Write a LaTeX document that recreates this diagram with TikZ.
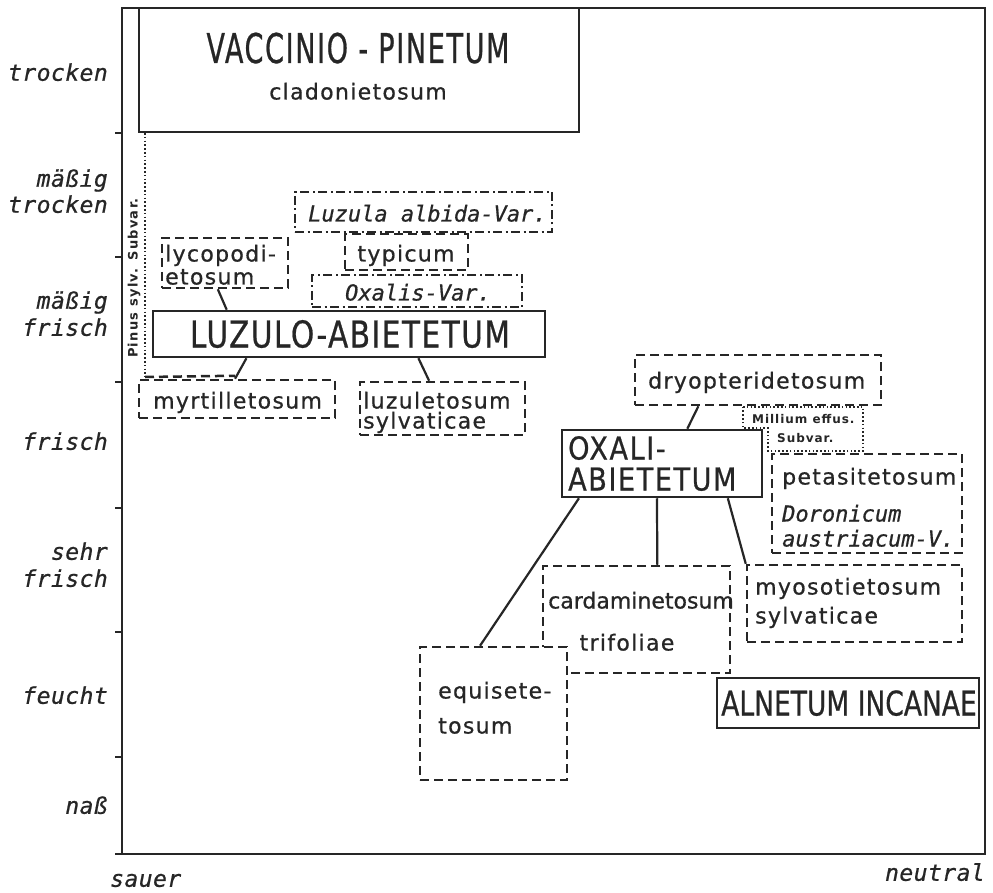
\documentclass[tikz,border=0pt]{standalone}
\usepackage{fontspec}
\setmainfont{DejaVu Sans}
\newfontfamily\labfnt[FakeBold=0.7]{DejaVu Sans}
\newfontfamily\monofnt[FakeBold=0.7]{DejaVu Sans Mono}
\newfontfamily\capsA[FakeStretch=0.66,FakeBold=0.6]{DejaVu Sans}
\newfontfamily\capsB[FakeStretch=0.80,FakeBold=0.6]{DejaVu Sans}
\newfontfamily\capsC[FakeStretch=0.78,FakeBold=0.6]{DejaVu Sans}
\newfontfamily\capsD[FakeStretch=0.86,FakeBold=0.6]{DejaVu Sans}
\usetikzlibrary{fit,calc}
\definecolor{ink}{RGB}{38,38,38}
\begin{document}
\begin{tikzpicture}[x=1pt,y=-1pt,
  frame/.style={draw=ink, line width=2.5pt},
  sbox/.style={draw=ink, line width=2.5pt, inner sep=0pt},
  dbox/.style={sbox, dash pattern=on 9pt off 5pt},
  ddbox/.style={sbox, dash pattern=on 9pt off 3.5pt on 2pt off 3.5pt},
  obox/.style={draw=ink, line width=2pt, dash pattern=on 1.6pt off 2.2pt},
  dline/.style={draw=ink, line width=2.5pt, dash pattern=on 9pt off 5pt},
  conn/.style={draw=ink, line width=2.2pt},
  lab/.style={text=ink, inner sep=0pt, anchor=west, text height=17pt, text depth=0pt,
    font=\labfnt\fontsize{22}{26}\selectfont\addfontfeature{LetterSpace=6}},
  ilab/.style={text=ink, inner sep=0pt, anchor=west, text height=17pt, text depth=0pt,
    font=\monofnt\itshape\fontsize{22}{26}\selectfont},
  axl/.style={text=ink, inner sep=0pt, anchor=east, text height=17.5pt, text depth=0pt,
    font=\monofnt\itshape\fontsize{23}{27}\selectfont\addfontfeature{LetterSpace=2}},
  capt/.style={text=ink, inner sep=0pt, text depth=0pt},
  sml/.style={text=ink, inner sep=0pt, anchor=west, text height=9pt, text depth=0pt,
    font=\bfseries\fontsize{12}{14}\selectfont\addfontfeature{LetterSpace=8}}
]
\useasboundingbox (0,0) rectangle (993,893);
\fill[white] (0,0) rectangle (993,893);

% frame and ticks
\draw[frame] (122,8) rectangle (985,854);
\foreach \yy in {133,257,382,508,632,757,854} \draw[frame] (115,\yy) -- (122,\yy);

% axis labels
\node[axl] at (108,72) {trocken};
\node[axl] at (108,178) {mäßig};
\node[axl] at (108,204) {trocken};
\node[axl] at (108,300) {mäßig};
\node[axl] at (108,327) {frisch};
\node[axl] at (108,441) {frisch};
\node[axl] at (108,551) {sehr};
\node[axl] at (108,578) {frisch};
\node[axl] at (108,695) {feucht};
\node[axl] at (108,805) {naß};
\node[axl, anchor=west] at (110,878) {sauer};
\node[axl] at (985,872) {neutral};

% boxes
\node[sbox, fit={(139,8) (579,132)}] (vac) {};
\node[capt, text height=30pt, font=\capsA\fontsize{41}{41}\selectfont\addfontfeature{LetterSpace=4}] at (358,48) {VACCINIO - PINETUM};
\node[lab, anchor=center] at (358,91) {cladonietosum};

\draw[obox] (145,133) coordinate (pinT) -- (145,377) coordinate (pinB);
\node[sml, anchor=center, rotate=90, font=\bfseries\fontsize{13}{15}\selectfont\addfontfeature{LetterSpace=10}] at (133,278) {Pinus sylv. Subvar.};

\node[ddbox, fit={(295,192) (552,232)}] (alb) {};
\node[ilab] at (308,213) {Luzula albida-Var.};
\node[dbox, fit={(345,234) (468,270)}] (typ) {};
\node[lab, anchor=center] at (406,253) {typicum};
\node[ddbox, fit={(312,275) (522,307)}] (oxv) {};
\node[ilab, anchor=center] at (418,292) {Oxalis-Var.};

\node[dbox, fit={(162,238) (288,288)}] (lyc) {};
\node[lab] at (165,253) {lycopodi-};
\node[lab] at (165,276) {etosum};

\node[sbox, fit={(153,311) (545,357)}] (luz) {};
\node[capt, text height=27pt, font=\capsB\fontsize{37}{37}\selectfont\addfontfeature{LetterSpace=4}] at (350,334) {LUZULO-ABIETETUM};

\node[dbox, fit={(139,380) (335,418)}] (myr) {};
\node[lab] at (153,400) {myrtilletosum};
\node[dbox, fit={(360,382) (525,435)}] (luzs) {};
\node[lab] at (363,400) {luzuletosum};
\node[lab] at (363,420) {sylvaticae};

\draw[dline] (pinB) -- ($(myr.north west)!.49!(myr.north east) + (0,-3)$);

\node[dbox, fit={(635,355) (881,405)}] (dry) {};
\node[lab] at (648,380) {dryopteridetosum};

\draw[obox] (743,407) -- (863,407) -- (863,451) -- (768,451) -- (768,428) -- (743,428) -- cycle;
\node[sml] at (752,419) {Millium effus.};
\node[sml] at (777,438) {Subvar.};

\node[sbox, fit={(562,430) (762,497)}] (oxa) {};
\node[capt, anchor=west, text height=23pt, font=\capsD\fontsize{31.5}{31.5}\selectfont\addfontfeature{LetterSpace=5}] at (568,448) {OXALI-};
\node[capt, anchor=west, text height=23pt, font=\capsD\fontsize{31.5}{31.5}\selectfont\addfontfeature{LetterSpace=5}] at (568,479) {ABIETETUM};

\node[dbox, fit={(772,454) (962,553)}] (pet) {};
\node[lab] at (782,476) {petasitetosum};
\node[ilab] at (782,513) {Doronicum};
\node[ilab] at (782,538) {austriacum-V.};

\node[dbox, fit={(543,566) (730,673)}] (car) {};
\node[lab, font=\labfnt\fontsize{22}{26}\selectfont] at (548,600) {cardaminetosum};
\node[lab, anchor=center] at (627,642) {trifoliae};

\node[dbox, fill=white, fit={(420,647) (567,780)}] (equ) {};
\node[lab] at (438,690) {equisete-};
\node[lab] at (438,725) {tosum};

\node[dbox, fit={(747,565) (962,642)}] (myo) {};
\node[lab] at (755,586) {myosotietosum};
\node[lab] at (755,615) {sylvaticae};

\node[sbox, fit={(717,678) (979,728)}] (aln) {};
\node[capt, text height=25pt, font=\capsC\fontsize{34}{34}\selectfont] at (849,703) {ALNETUM INCANAE};

% connectors
\draw[conn] ($(lyc.south west)!.444!(lyc.south east)$) -- ($(luz.north west)!.19!(luz.north east)$);
\draw[conn] ($(luz.south west)!.24!(luz.south east)$) -- ($(myr.north west)!.49!(myr.north east)$);
\draw[conn] ($(luz.south west)!.676!(luz.south east)$) -- ($(luzs.north west)!.42!(luzs.north east)$);
\draw[conn] ($(dry.south west)!.26!(dry.south east)$) -- ($(oxa.north west)!.625!(oxa.north east)$);
\draw[conn] ($(oxa.south west)!.09!(oxa.south east)$) -- ($(equ.north west)!.41!(equ.north east)$);
\draw[conn] ($(oxa.south west)!.475!(oxa.south east)$) -- ($(car.north west)!.61!(car.north east)$);
\draw[conn] ($(oxa.south west)!.825!(oxa.south east)$) -- (myo.north west);
\end{tikzpicture}
\end{document}
